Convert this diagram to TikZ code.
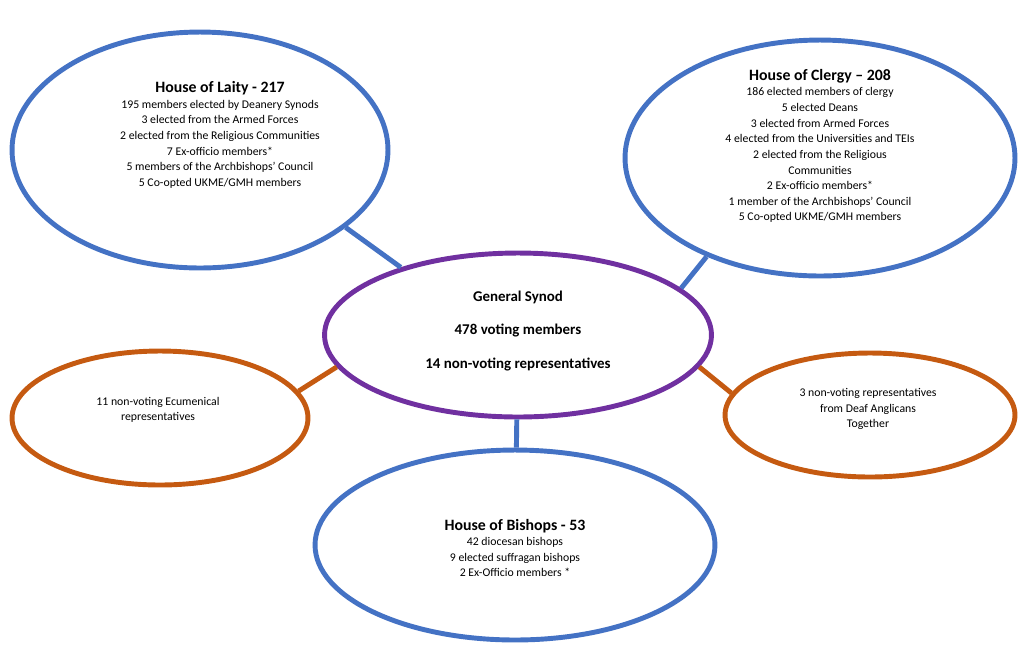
\documentclass[tikz,border=0pt]{standalone}
\usepackage{fontspec}
\setmainfont{Carlito}
\usetikzlibrary{shapes.geometric}
\definecolor{houseblue}{RGB}{68,114,196}
\definecolor{synodpurple}{RGB}{112,48,160}
\definecolor{extraorange}{RGB}{197,90,17}
\begin{document}
\begin{tikzpicture}
    [
    x=0.02cm,y=-0.02cm,
    house/.style={ellipse,draw=houseblue,line width=2.8pt,inner sep=0pt},
    extra/.style={ellipse,draw=extraorange,line width=2.8pt,inner sep=0pt},
    synod/.style={ellipse,draw=synodpurple,line width=2.8pt,inner sep=0pt},
    info/.style={align=center,font=\fontsize{6.7}{8.9}\selectfont}
    ]
    \useasboundingbox (0,0) rectangle (1024,654);

    \node (laity) at (200,150) [house,minimum width=7.52cm,minimum height=4.72cm] {};
    \node (clergy) at (820,158) [house,minimum width=7.8cm,minimum height=4.72cm] {};
    \node (synod) at (518,335) [synod,minimum width=7.74cm,minimum height=3.28cm] {};
    \node (ecum) at (160,418) [extra,minimum width=5.92cm,minimum height=2.68cm] {};
    \node (deaf) at (870,415) [extra,minimum width=5.8cm,minimum height=2.48cm] {};
    \node (bishops) at (515,545) [house,minimum width=8cm,minimum height=3.8cm] {};

    \draw [houseblue,line width=2.8pt] (laity.332) to (synod.150);
    \draw [houseblue,line width=2.8pt] (clergy.221) to (synod.16);
    \draw [houseblue,line width=2.8pt] (bishops) to (synod);
    \draw [extraorange,line width=2.8pt] (ecum.11) to (synod.190);
    \draw [extraorange,line width=2.8pt] (deaf.171) to (synod.350);

    \node (laitytext) at (220,135) [info] {{\fontsize{9}{11}\selectfont\bfseries House of Laity - 217}\\
      195 members elected by Deanery Synods\\3 elected from the Armed Forces\\
      2 elected from the Religious Communities\\7 Ex-officio members*\\
      5 members of the Archbishops’ Council\\5 Co-opted UKME/GMH members};
    \node (clergytext) at (820,146) [info] {{\fontsize{9}{11}\selectfont\bfseries House of Clergy – 208}\\
      186 elected members of clergy\\5 elected Deans\\3 elected from Armed Forces\\
      4 elected from the Universities and TEIs\\2 elected from the Religious\\Communities\\
      2 Ex-officio members*\\1 member of the Archbishops’ Council\\5 Co-opted UKME/GMH members};
    \node (synodtext) at (518,331) [align=center,font=\fontsize{8.5}{19.2}\selectfont\bfseries]
      {General Synod\\478 voting members\\14 non-voting representatives};
    \node (ecumtext) at (158,410) [info] {11 non-voting Ecumenical\\representatives};
    \node (deaftext) at (868,409) [info] {3 non-voting representatives\\from Deaf Anglicans\\Together};
    \node (bishopstext) at (515,548) [info] {{\fontsize{9}{11}\selectfont\bfseries House of Bishops - 53}\\
      42 diocesan bishops\\9 elected suffragan bishops\\2 Ex-Officio members *};
  \end{tikzpicture}
\end{document}
